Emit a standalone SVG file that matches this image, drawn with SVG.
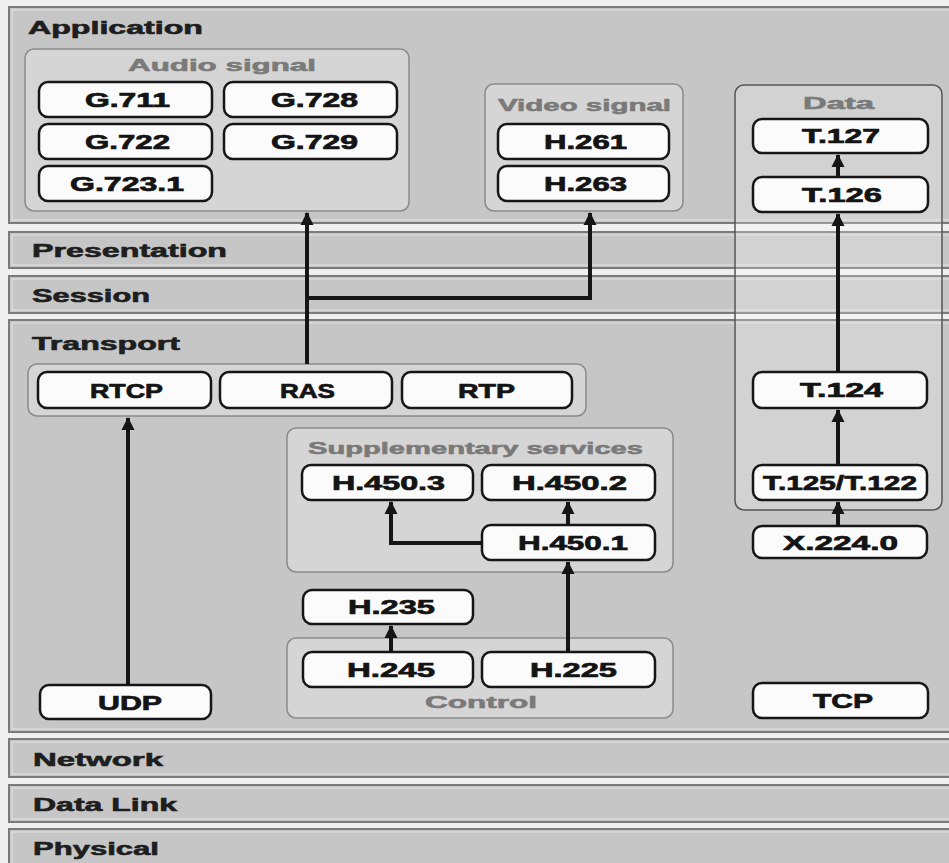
<svg xmlns="http://www.w3.org/2000/svg" width="949" height="863" viewBox="0 0 949 863">
<defs>
<marker id="ah" markerUnits="userSpaceOnUse" markerWidth="16" markerHeight="14" refX="12" refY="7" orient="auto">
<path d="M0,0.5 L13,7 L0,13.5 Z" fill="#151515"/>
</marker>
</defs>
<style>
.band{fill:#c6c6c6;stroke:#7a7a7a;stroke-width:2}
.bandin{fill:none;stroke:#e2e2e2;stroke-width:1}
.grp{fill:#d5d5d5;stroke:#8a8a8a;stroke-width:1.5}
.node{fill:#fbfbfb;stroke:#161616;stroke-width:2.5}
.lt{font-family:"Liberation Sans",Arial,sans-serif;font-weight:bold;font-size:18px;fill:#1e1e1e;stroke:#1e1e1e;stroke-width:0.6}
.gt{font-family:"Liberation Sans",Arial,sans-serif;font-weight:bold;font-size:17px;fill:#7a7a7a;stroke:#7a7a7a;stroke-width:0.6}
.nt{font-family:"Liberation Sans",Arial,sans-serif;font-weight:bold;font-size:20px;fill:#141414;stroke:#141414;stroke-width:0.7}
.con{fill:none;stroke:#151515;stroke-width:4;marker-end:url(#ah)}
</style>
<rect x="0" y="0" width="949" height="863" fill="#efefef"/>
<g id="layers">
<g id="layer-application"><rect class="band" x="9" y="7" width="960" height="216"/><rect class="bandin" x="12" y="10" width="960" height="210"/><text class="lt" x="28" y="34" textLength="175" lengthAdjust="spacingAndGlyphs">Application</text></g>
<g id="layer-presentation"><rect class="band" x="9" y="232" width="960" height="36"/><rect class="bandin" x="12" y="235" width="960" height="30"/><text class="lt" x="32" y="257" textLength="195" lengthAdjust="spacingAndGlyphs">Presentation</text></g>
<g id="layer-session"><rect class="band" x="9" y="276" width="960" height="37"/><rect class="bandin" x="12" y="279" width="960" height="31"/><text class="lt" x="32" y="302" textLength="118" lengthAdjust="spacingAndGlyphs">Session</text></g>
<g id="layer-transport"><rect class="band" x="9" y="320" width="960" height="412"/><rect class="bandin" x="12" y="323" width="960" height="406"/><text class="lt" x="32" y="350" textLength="148" lengthAdjust="spacingAndGlyphs">Transport</text></g>
<g id="layer-network"><rect class="band" x="9" y="739" width="960" height="38"/><rect class="bandin" x="12" y="742" width="960" height="32"/><text class="lt" x="33" y="766" textLength="130" lengthAdjust="spacingAndGlyphs">Network</text></g>
<g id="layer-datalink"><rect class="band" x="9" y="785" width="960" height="37"/><rect class="bandin" x="12" y="788" width="960" height="31"/><text class="lt" x="33" y="811" textLength="144" lengthAdjust="spacingAndGlyphs">Data Link</text></g>
<g id="layer-physical"><rect class="band" x="9" y="829" width="960" height="45"/><rect class="bandin" x="12" y="832" width="960" height="40"/><text class="lt" x="33" y="855" textLength="126" lengthAdjust="spacingAndGlyphs">Physical</text></g>
</g>
<g id="audio-signal"><rect class="grp" x="25" y="49" width="384" height="162" rx="9"/><text class="gt" x="128" y="71" textLength="188" lengthAdjust="spacingAndGlyphs">Audio signal</text></g>
<g id="video-signal"><rect class="grp" x="485" y="84" width="198" height="127" rx="9"/><text class="gt" x="498" y="111" textLength="173" lengthAdjust="spacingAndGlyphs">Video signal</text></g>
<g id="data"><rect x="735" y="85" width="207" height="425" rx="9" fill="#ffffff" fill-opacity="0.22" stroke="#555" stroke-width="1.5"/><text class="gt" x="803" y="109" textLength="71" lengthAdjust="spacingAndGlyphs">Data</text></g>
<g id="transport-protocols"><rect class="grp" x="28" y="364" width="558" height="52" rx="9"/></g>
<g id="supplementary-services"><rect class="grp" x="287" y="428" width="386" height="144" rx="9"/><text class="gt" x="308" y="454" textLength="335" lengthAdjust="spacingAndGlyphs">Supplementary services</text></g>
<g id="control"><rect class="grp" x="287" y="638" width="386" height="80" rx="9"/><text class="gt" x="425" y="708" textLength="112" lengthAdjust="spacingAndGlyphs">Control</text></g>

<g id="connectors">
<path class="con" d="M307,364 L307,213"/>
<path class="con" d="M307,298 L590,298 L590,213"/>
<path class="con" d="M128,685 L128,418"/>
<path class="con" d="M391,652 L391,626"/>
<path class="con" d="M568,652 L568,562"/>
<path class="con" d="M568,525 L568,502"/>
<path class="con" d="M482,543 L391,543 L391,502"/>
<path class="con" d="M838,526 L838,502"/>
<path class="con" d="M838,465 L838,410"/>
<path class="con" d="M838,372 L838,214"/>
<path class="con" d="M838,177 L838,155"/>
</g>

<g id="g711"><rect class="node" x="39" y="82" width="173" height="35" rx="9"/><text class="nt" x="85" y="107" textLength="85" lengthAdjust="spacingAndGlyphs">G.711</text></g>
<g id="g728"><rect class="node" x="224" y="82" width="173" height="35" rx="9"/><text class="nt" x="271" y="107" textLength="87" lengthAdjust="spacingAndGlyphs">G.728</text></g>
<g id="g722"><rect class="node" x="39" y="124" width="173" height="35" rx="9"/><text class="nt" x="85" y="149" textLength="85" lengthAdjust="spacingAndGlyphs">G.722</text></g>
<g id="g729"><rect class="node" x="224" y="124" width="173" height="35" rx="9"/><text class="nt" x="271" y="149" textLength="87" lengthAdjust="spacingAndGlyphs">G.729</text></g>
<g id="g7231"><rect class="node" x="39" y="166" width="173" height="35" rx="9"/><text class="nt" x="70" y="191" textLength="114" lengthAdjust="spacingAndGlyphs">G.723.1</text></g>
<g id="h261"><rect class="node" x="498" y="124" width="171" height="35" rx="9"/><text class="nt" x="544" y="149" textLength="83" lengthAdjust="spacingAndGlyphs">H.261</text></g>
<g id="h263"><rect class="node" x="498" y="166" width="171" height="35" rx="9"/><text class="nt" x="544" y="191" textLength="83" lengthAdjust="spacingAndGlyphs">H.263</text></g>
<g id="t127"><rect class="node" x="753" y="119" width="175" height="34" rx="9"/><text class="nt" x="802" y="143" textLength="78" lengthAdjust="spacingAndGlyphs">T.127</text></g>
<g id="t126"><rect class="node" x="753" y="177" width="175" height="35" rx="9"/><text class="nt" x="802" y="202" textLength="80" lengthAdjust="spacingAndGlyphs">T.126</text></g>
<g id="t124"><rect class="node" x="753" y="372" width="174" height="36" rx="9"/><text class="nt" x="800" y="397" textLength="83" lengthAdjust="spacingAndGlyphs">T.124</text></g>
<g id="t125"><rect class="node" x="753" y="465" width="174" height="35" rx="9"/><text class="nt" x="763" y="490" textLength="154" lengthAdjust="spacingAndGlyphs">T.125/T.122</text></g>
<g id="x2240"><rect class="node" x="753" y="526" width="174" height="32" rx="9"/><text class="nt" x="783" y="550" textLength="115" lengthAdjust="spacingAndGlyphs">X.224.0</text></g>
<g id="tcp"><rect class="node" x="753" y="683" width="175" height="35" rx="9"/><text class="nt" x="813" y="708" textLength="60" lengthAdjust="spacingAndGlyphs">TCP</text></g>
<g id="rtcp"><rect class="node" x="38" y="372" width="173" height="36" rx="9"/><text class="nt" x="90" y="398" textLength="73" lengthAdjust="spacingAndGlyphs">RTCP</text></g>
<g id="ras"><rect class="node" x="220" y="372" width="172" height="36" rx="9"/><text class="nt" x="280" y="398" textLength="55" lengthAdjust="spacingAndGlyphs">RAS</text></g>
<g id="rtp"><rect class="node" x="402" y="372" width="170" height="36" rx="9"/><text class="nt" x="458" y="398" textLength="57" lengthAdjust="spacingAndGlyphs">RTP</text></g>
<g id="udp"><rect class="node" x="40" y="685" width="171" height="34" rx="9"/><text class="nt" x="98" y="710" textLength="64" lengthAdjust="spacingAndGlyphs">UDP</text></g>
<g id="h4503"><rect class="node" x="302" y="465" width="171" height="35" rx="9"/><text class="nt" x="332" y="490" textLength="113" lengthAdjust="spacingAndGlyphs">H.450.3</text></g>
<g id="h4502"><rect class="node" x="482" y="465" width="173" height="35" rx="9"/><text class="nt" x="512" y="490" textLength="115" lengthAdjust="spacingAndGlyphs">H.450.2</text></g>
<g id="h4501"><rect class="node" x="482" y="525" width="173" height="35" rx="9"/><text class="nt" x="518" y="550" textLength="110" lengthAdjust="spacingAndGlyphs">H.450.1</text></g>
<g id="h235"><rect class="node" x="303" y="590" width="170" height="34" rx="9"/><text class="nt" x="348" y="614" textLength="87" lengthAdjust="spacingAndGlyphs">H.235</text></g>
<g id="h245"><rect class="node" x="303" y="652" width="170" height="35" rx="9"/><text class="nt" x="347" y="677" textLength="88" lengthAdjust="spacingAndGlyphs">H.245</text></g>
<g id="h225"><rect class="node" x="482" y="652" width="173" height="35" rx="9"/><text class="nt" x="530" y="677" textLength="87" lengthAdjust="spacingAndGlyphs">H.225</text></g>
</svg>
